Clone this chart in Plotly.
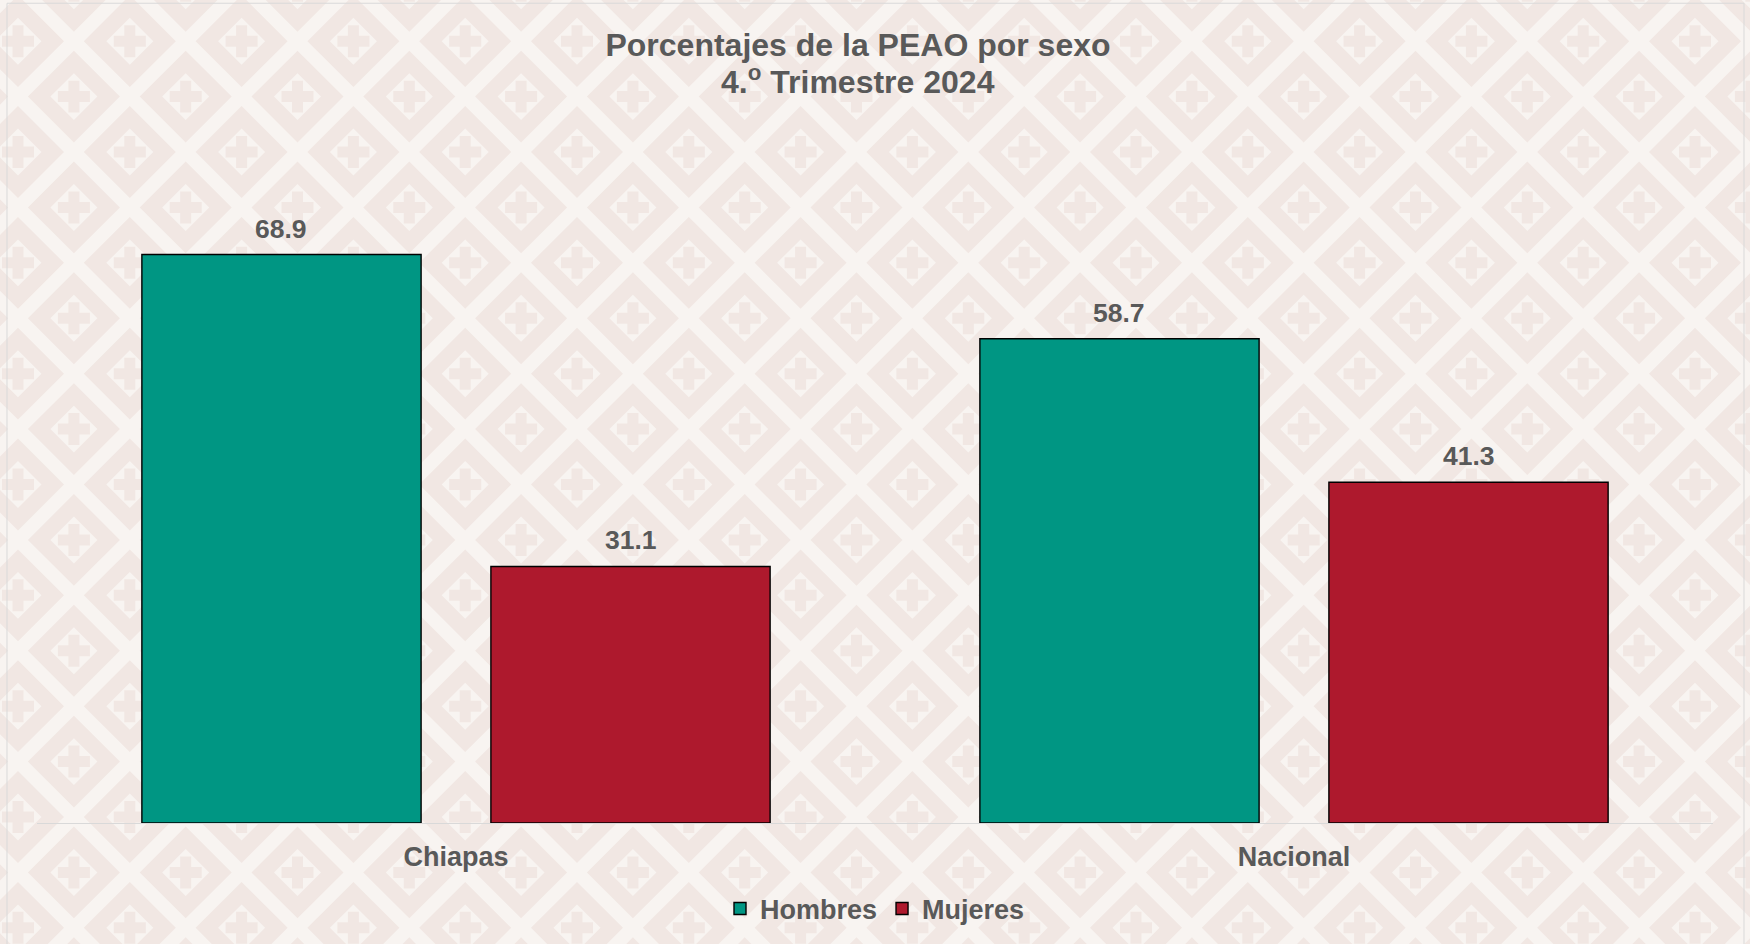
import plotly.graph_objects as go

# ---------------- data ----------------
categories = ["Chiapas", "Nacional"]
hombres = [68.9, 58.7]
mujeres = [31.1, 41.3]
series_names = ["Hombres", "Mujeres"]
title_line1 = "Porcentajes de la PEAO por sexo"
title_line2 = "4.<sup>o</sup> Trimestre 2024"

# ---------------- layout constants ----------------
FIG_W, FIG_H = 1750, 944
M_L, M_R, M_T, M_B = 37, 37, 163, 120
PLOT_W = FIG_W - M_L - M_R
PLOT_H = FIG_H - M_T - M_B
Y_MAX = 80
BARGAP = 0.167
BARGROUPGAP = 0.2
TXT = "#595959"
FONT = "Liberation Sans, Arial, sans-serif"
TEAL = "#009683"
RED = "#AE192D"
LIGHT = "#F8F4F1"
DARK = "#F1E7E3"


def px_x(px):
    return (px - M_L) / PLOT_W


def px_y(py):
    return (FIG_H - M_B - py) / PLOT_H


# ---------------- background pattern (decoration) ----------------
def diamond(cx, cy, r):
    pts = [(cx - r, cy), (cx, cy - r), (cx + r, cy), (cx, cy + r)]
    return "M" + " L".join(f"{px_x(a):.5f},{px_y(b):.5f}" for a, b in pts) + " Z"


def cross(cx, cy, l, w):
    pts = [(cx - w, cy - l), (cx + w, cy - l), (cx + w, cy - w), (cx + l, cy - w),
           (cx + l, cy + w), (cx + w, cy + w), (cx + w, cy + l), (cx - w, cy + l),
           (cx - w, cy + w), (cx - l, cy + w), (cx - l, cy - w), (cx - w, cy - w)]
    return "M" + " L".join(f"{px_x(a):.5f},{px_y(b):.5f}" for a, b in pts) + " Z"


PX, PY = 111.8, 111.0
outer, inner, crosses = [], [], []
for j in range(-2, 20):
    cy = 41 + (PY / 2) * j
    off = 18 + (PX / 2) * (j % 2)
    for i in range(-2, 18):
        cx = off + PX * i
        outer.append(diamond(cx, cy, 46))
        inner.append(diamond(cx, cy, 23.5))
        crosses.append(cross(cx, cy, 16, 5.5))

shapes = [
    dict(type="path", xref="paper", yref="paper", path=" ".join(outer),
         fillcolor=DARK, line=dict(width=0), layer="below"),
    dict(type="path", xref="paper", yref="paper", path=" ".join(inner),
         fillcolor=LIGHT, line=dict(width=0), layer="below"),
    dict(type="path", xref="paper", yref="paper", path=" ".join(crosses),
         fillcolor=DARK, line=dict(width=0), layer="below"),
    dict(type="rect", xref="paper", yref="paper",
         x0=px_x(7), x1=px_x(1744), y0=px_y(960), y1=px_y(3),
         line=dict(color="#D9D9D9", width=1), fillcolor="rgba(0,0,0,0)", layer="below"),
]

# ---------------- figure ----------------
fig = go.Figure()
for name, vals, col in [(series_names[0], hombres, TEAL), (series_names[1], mujeres, RED)]:
    fig.add_trace(go.Bar(
        x=categories, y=vals, name=name,
        marker=dict(color=col, line=dict(color="#000000", width=1.4)),
    ))

# value labels above bars
cat_w = PLOT_W / len(categories)
slot = cat_w * (1 - BARGAP) / 2
annotations = []
for k, vals in enumerate([hombres, mujeres]):
    shift = (k - 0.5) * slot
    for c, v in zip(categories, vals):
        annotations.append(dict(
            x=c, y=v, xref="x", yref="y", text=f"{v:.1f}", showarrow=False,
            xshift=shift, yshift=9, yanchor="bottom",
            font=dict(family=FONT, size=26.5, color=TXT, weight="bold"),
        ))

# second title line
annotations.append(dict(
    x=px_x(858), y=px_y(80), xref="paper", yref="paper", text=title_line2,
    showarrow=False, xanchor="center", yanchor="middle",
    font=dict(family=FONT, size=32, color=TXT, weight="bold"),
))

fig.update_layout(
    width=FIG_W, height=FIG_H,
    margin=dict(l=M_L, r=M_R, t=M_T, b=M_B),
    paper_bgcolor=LIGHT, plot_bgcolor="rgba(0,0,0,0)",
    barmode="group", bargap=BARGAP, bargroupgap=BARGROUPGAP,
    title=dict(
        text=title_line1,
        x=858 / FIG_W, xanchor="center", xref="container",
        y=1 - 34 / FIG_H, yanchor="top", yref="container",
        font=dict(family=FONT, size=32, color=TXT, weight="bold"),
    ),
    xaxis=dict(
        showline=True, linecolor="#D9D9D9", linewidth=1, ticks="",
        showgrid=False, zeroline=False, ticklabelstandoff=10,
        tickfont=dict(family=FONT, size=27, color=TXT, weight="bold"),
    ),
    yaxis=dict(range=[0, Y_MAX], visible=False, showgrid=False, zeroline=False),
    legend=dict(
        orientation="h", x=0.5, xanchor="center", y=px_y(909), yanchor="middle",
        font=dict(family=FONT, size=27, color=TXT, weight="bold"),
        bgcolor="rgba(0,0,0,0)", itemclick=False,
    ),
    shapes=shapes,
    annotations=annotations,
    showlegend=True,
)

fig.write_html(
    "out.html",
    config={"displayModeBar": False},
    post_script="document.body.style.margin='0';document.body.style.overflow='hidden';",
)
